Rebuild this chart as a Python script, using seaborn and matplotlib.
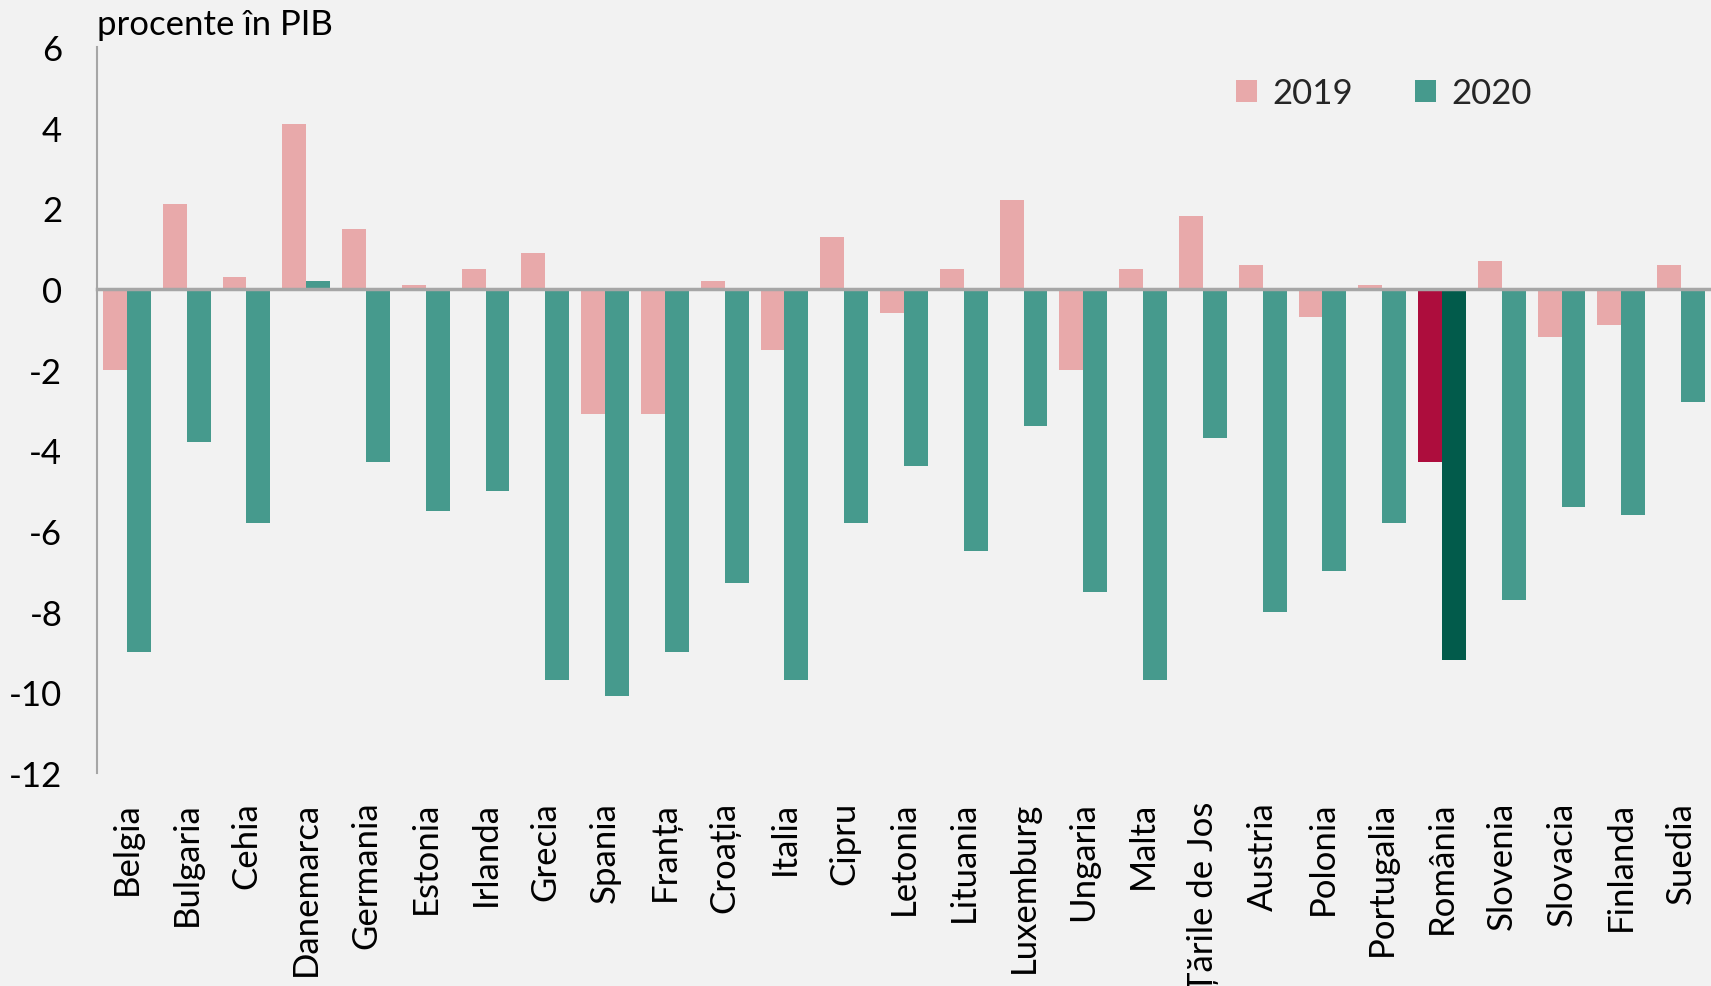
import numpy as np
import pandas as pd
import matplotlib
matplotlib.use("Agg")
import matplotlib.pyplot as plt
import seaborn as sns
from matplotlib.patches import Patch

# ---- data ----
countries = ["Belgia", "Bulgaria", "Cehia", "Danemarca", "Germania", "Estonia",
             "Irlanda", "Grecia", "Spania", "Franța", "Croația", "Italia",
             "Cipru", "Letonia", "Lituania", "Luxemburg", "Ungaria", "Malta",
             "Țările de Jos", "Austria", "Polonia", "Portugalia", "România",
             "Slovenia", "Slovacia", "Finlanda", "Suedia"]
v2019 = [-2.0, 2.1, 0.3, 4.1, 1.5, 0.1, 0.5, 0.9, -3.1, -3.1, 0.2, -1.5,
         1.3, -0.6, 0.5, 2.2, -2.0, 0.5, 1.8, 0.6, -0.7, 0.1, -4.3,
         0.7, -1.2, -0.9, 0.6]
v2020 = [-9.0, -3.8, -5.8, 0.2, -4.3, -5.5, -5.0, -9.7, -10.1, -9.0, -7.3, -9.7,
         -5.8, -4.4, -6.5, -3.4, -7.5, -9.7, -3.7, -8.0, -7.0, -5.8, -9.2,
         -7.7, -5.4, -5.6, -2.8]
years = ["2019", "2020"]
yticks = [-12, -10, -8, -6, -4, -2, 0, 2, 4, 6]
highlight = "România"
title = "procente în PIB"

BG = "#F2F2F2"
PINK = "#E8A9AA"
TEAL = "#469A8D"
CRIMSON = "#AD0D3D"
DKGREEN = "#025B4B"
GRAY = "#A6A6A6"
FS = 25

df = pd.DataFrame({
    "tara": countries * 2,
    "an": [years[0]] * len(countries) + [years[1]] * len(countries),
    "val": v2019 + v2020,
})

sns.set_theme(style="white")
plt.rcParams["font.family"] = ["Lato", "DejaVu Sans"]
plt.rcParams["axes.unicode_minus"] = False

W, H = 1711, 987
fig = plt.figure(figsize=(W / 100, H / 100), dpi=100, facecolor=BG)
ax = fig.add_axes([97 / W, 1 - 774 / H, 1 - 97 / W, (774 - 48) / H])
ax.set_facecolor(BG)

sns.barplot(data=df, x="tara", y="val", hue="an", order=countries,
            hue_order=years, palette={years[0]: PINK, years[1]: TEAL},
            saturation=1, width=0.8, errorbar=None, legend=False, ax=ax,
            linewidth=0)

idx = countries.index(highlight)
ax.containers[0][idx].set_facecolor(CRIMSON)
ax.containers[1][idx].set_facecolor(DKGREEN)

ax.set_xlim(-0.5, len(countries) - 0.5)
ax.set_ylim(-12, 6)
ax.set_yticks(yticks)
ax.set_yticklabels([str(t) for t in yticks], fontsize=FS, color="black")
ax.set_xlabel("")
ax.set_ylabel("")

for s in ["top", "right"]:
    ax.spines[s].set_visible(False)
ax.spines["left"].set_color(GRAY)
ax.spines["left"].set_linewidth(1.5)
ax.spines["bottom"].set_position(("data", 0))
ax.spines["bottom"].set_color(GRAY)
ax.spines["bottom"].set_linewidth(2.5)

ax.set_xticks(np.arange(0.5, len(countries) - 1, 1.0))
ax.set_xticklabels([])
ax.tick_params(axis="x", direction="out", length=12, width=1.5, color=GRAY)
ax.tick_params(axis="y", direction="out", length=10, width=1.5, color=GRAY, pad=15)

sec = ax.secondary_xaxis("bottom")
sec.set_xticks(range(len(countries)))
sec.set_xticklabels(countries, rotation=90, fontsize=FS, color="black")
sec.tick_params(length=0, pad=20)
sec.spines["bottom"].set_visible(False)

fig.text(97 / W, 1 - 25 / H, title, fontsize=FS, ha="left", va="center", color="black")

handles = [Patch(facecolor=PINK, edgecolor="none", label=years[0]),
           Patch(facecolor=TEAL, edgecolor="none", label=years[1])]
ax.legend(handles=handles, loc="center", bbox_to_anchor=(1384 / W, 1 - 94 / H),
          bbox_transform=fig.transFigure, ncol=2, frameon=False, fontsize=FS,
          handlelength=0.6, handleheight=0.6, handletextpad=0.45, columnspacing=1.8)

fig.savefig("out.png", dpi=100, facecolor=BG)
